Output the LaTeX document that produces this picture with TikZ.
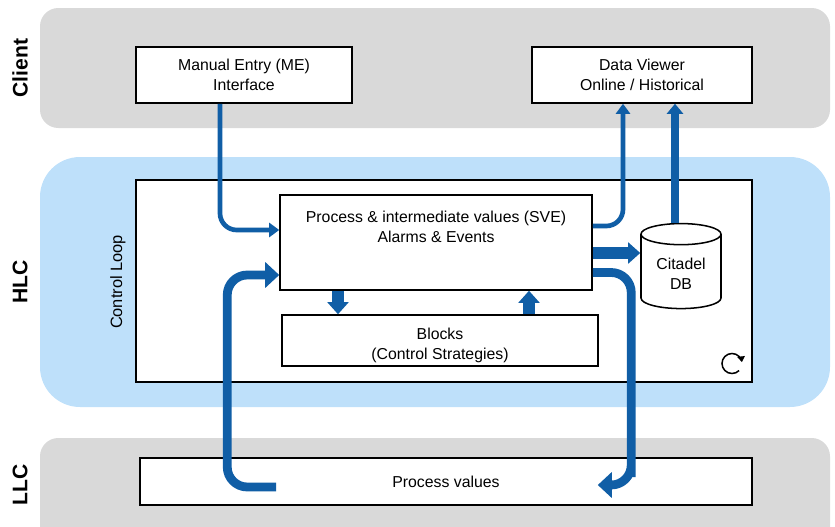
\documentclass[tikz,border=0pt]{standalone}
\usepackage{fontspec}
\setmainfont{Liberation Sans}
\usetikzlibrary{arrows.meta,positioning,calc,shapes.geometric}
\newcommand{\pxu}{0.03cm}
\definecolor{flowblue}{RGB}{16,94,166}
\definecolor{bandgray}{RGB}{217,217,217}
\definecolor{bandblue}{RGB}{190,224,250}

\begin{document}
\begin{tikzpicture}[x=\pxu, y=-\pxu,
    every node/.style={font=\fontsize{13.5}{17}\selectfont, align=center},
    box/.style={draw, line width=1.3pt, fill=white, inner sep=0pt},
    band/.style={rounded corners=#1, inner sep=0pt, minimum width=790*\pxu},
    tier/.style={rotate=90, font=\fontsize{18}{20}\selectfont\bfseries},
    thinflow/.style={draw=flowblue, line width=4pt, rounded corners=0.5cm,
      -{Triangle[length=0.3cm,width=0.42cm]}},
    dbflow/.style={draw=flowblue, line width=6pt,
      -{Triangle[length=0.3cm,width=0.48cm]}},
    bigflow/.style={draw=flowblue, line width=10pt,
      -{Triangle[length=0.36cm,width=0.62cm]}},
    loopflow/.style={draw=flowblue, line width=7.5pt, rounded corners=0.6cm,
      -{Triangle[length=0.42cm,width=0.75cm]}}]
  \useasboundingbox (0,0) rectangle (835,526);

  % tiers
  \node[band=0.55cm, fill=bandgray, minimum height=120*\pxu] (clientband) at (435,68) {};
  \node[band=1.2cm, fill=bandblue, minimum height=250*\pxu] (hlcband) at (435,282) {};
  \begin{scope}
    \clip (0,0) rectangle (835,526);
    \node[band=0.55cm, fill=bandgray, minimum height=130*\pxu] (llcband) at (435,503) {};
  \end{scope}
  \node[tier] (clientlbl) at (20,68) {Client};
  \node[tier] (hlclbl) at (20,282) {HLC};
  \node[tier] (llclbl) at (20,485) {LLC};

  % boxes
  \node[box, minimum width=216*\pxu, minimum height=56*\pxu] (me) at (244,75)
    {Manual Entry (ME)\\Interface};
  \node[box, minimum width=220*\pxu, minimum height=56*\pxu] (viewer) at (642,75)
    {Data Viewer\\Online / Historical};
  \node[box, minimum width=616*\pxu, minimum height=202*\pxu] (loopbox) at (444,281) {};
  \node[rotate=90, font=\fontsize{14}{16}\selectfont] (looplbl) at (118,282) {Control Loop};
  \node[box, minimum width=312*\pxu, minimum height=95*\pxu] (proc) at (436,242.5) {};
  \node[below=0.37cm of proc.north] (proctext)
    {Process \& intermediate values (SVE)\\Alarms \& Events};
  \node[box, minimum width=316*\pxu, minimum height=51*\pxu] (blocks) at (440,340.5) {};
  \node (blockstext) at ($(blocks.center)+(0,5)$) {Blocks\\(Control Strategies)};
  \node[draw, line width=1.3pt, fill=white, cylinder, shape border rotate=90, aspect=0.37,
    minimum width=80*\pxu, minimum height=85*\pxu] (citadel) at (681,274) {Citadel\\DB};
  \node[box, minimum width=612*\pxu, minimum height=47*\pxu] (pv) at (446,481.5)
    {Process values};
  \draw[line width=1.3pt, -{Triangle[length=0.17cm,width=0.22cm]}]
    (732,363.5) ++(45:10) arc[start angle=45, end angle=352, radius=10];

  % flows
  \draw[thinflow] ($(me.south)+(-24,0)$) |- ($(proc.west)+(0,-12.5)$);
  \draw[thinflow] ($(proc.east)+(0,-16.5)$) -| ($(viewer.south)+(-19,0)$);
  \draw[dbflow] ($(citadel.north)+(-6,0)$) coordinate (dbtop) -- (dbtop |- viewer.south);
  \draw[bigflow] ($(proc.east)+(0,10.5)$) coordinate (dbin) -- (dbin -| citadel.west);
  \draw[bigflow] ($(proc.south)+(-98,0)$) -- ($(blocks.north)+(-102,0)$);
  \draw[bigflow] ($(blocks.north)+(89,0)$) -- ($(proc.south)+(93,0)$);
  \draw[loopflow] ($(proc.east)+(0,30)$) -| ($(citadel.west |- pv.north)+(-9,0)$)
    |- ($(pv.east)+(-155,3.5)$);
  \draw[loopflow] ($(pv.west)+(137,5.5)$) -| ($(loopbox.south west)+(92,0)$)
    |- ($(proc.west)+(0,32.5)$);
\end{tikzpicture}
\end{document}
